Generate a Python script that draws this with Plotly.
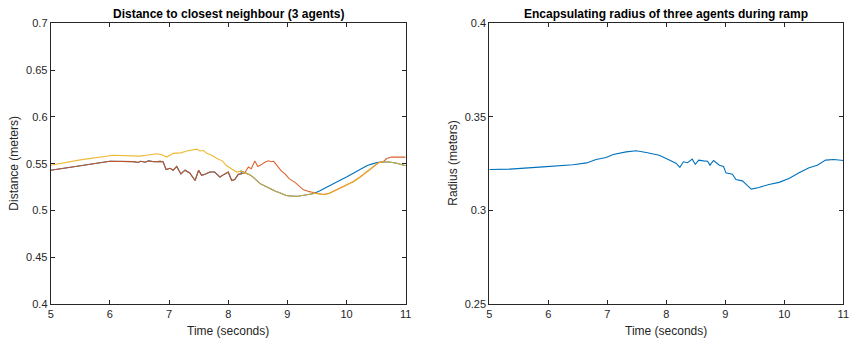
import plotly.graph_objects as go

# ---------------- Left panel data: distance to closest neighbour ----------------
# segment shared by agent 1 (blue) and agent 2 (red), 5 - 8.2 s
low_t = [5.00, 5.50, 6.00, 6.40, 6.48, 6.52, 6.60, 6.65, 6.75, 6.85, 6.90, 6.95, 7.02, 7.07,
         7.13, 7.20, 7.27, 7.35, 7.44, 7.50, 7.55, 7.62, 7.69, 7.77, 7.86, 7.93, 8.00, 8.06,
         8.11, 8.17, 8.22]
low_v = [0.5429, 0.5478, 0.5525, 0.5522, 0.5512, 0.5525, 0.5515, 0.5530, 0.5520, 0.5524,
         0.5520, 0.5436, 0.5450, 0.5430, 0.5470, 0.5390, 0.5430, 0.5400, 0.5320, 0.5430,
         0.5375, 0.5390, 0.5410, 0.5410, 0.5357, 0.5385, 0.5410, 0.5320, 0.5330, 0.5386,
         0.5390]
# agent 3 (yellow), 5 - 8.2 s
upper_t = [5.00, 5.50, 6.06, 6.50, 6.62, 6.70, 6.79, 6.88, 6.96, 7.07, 7.20, 7.30, 7.40,
           7.47, 7.52, 7.58, 7.64, 7.72, 7.81, 7.90, 7.97, 8.06, 8.14, 8.22]
upper_v = [0.5482, 0.5540, 0.5590, 0.5580, 0.5590, 0.5595, 0.5605, 0.5595, 0.5570, 0.5610,
           0.5615, 0.5636, 0.5645, 0.5655, 0.5635, 0.5640, 0.5610, 0.5590, 0.5555, 0.5530,
           0.5480, 0.5445, 0.5410, 0.5420]
# agent 2 bump, 8.2 - 9.45 s
bump_t = [8.22, 8.28, 8.34, 8.39, 8.45, 8.50, 8.56, 8.62, 8.68, 8.73, 8.77, 8.85, 8.90,
          8.96, 9.03, 9.13, 9.20, 9.27, 9.35, 9.45]
bump_v = [0.5390, 0.5400, 0.5464, 0.5445, 0.5529, 0.5470, 0.5490, 0.5515, 0.5530, 0.5520,
          0.5525, 0.5464, 0.5420, 0.5390, 0.5340, 0.5300, 0.5260, 0.5220, 0.5205, 0.5190]
# shared by agents 1 and 3, 8.2 - 9.45 s
olive_t = [8.22, 8.30, 8.37, 8.43, 8.48, 8.54, 8.62, 8.71, 8.80, 8.88, 8.98, 9.05, 9.13,
           9.20, 9.27, 9.35, 9.45]
olive_v = [0.5420, 0.5400, 0.5380, 0.5350, 0.5320, 0.5286, 0.5260, 0.5230, 0.5205, 0.5186,
           0.5160, 0.5155, 0.5150, 0.5155, 0.5160, 0.5172, 0.5180]
# agent 1 rise, 9.45 - 10.62 s
rise_t = [9.45, 9.55, 9.65, 9.72, 9.85, 10.00, 10.12, 10.23, 10.35, 10.45, 10.54, 10.62]
rise_v = [0.5180, 0.5210, 0.5245, 0.5268, 0.5310, 0.5357, 0.5400, 0.5446, 0.5480, 0.5500,
          0.5515, 0.5518]
# shared by agents 2 and 3, 9.45 - 10.62 s
orange_t = [9.45, 9.52, 9.61, 9.70, 9.78, 9.88, 10.00, 10.12, 10.23, 10.32, 10.40, 10.48,
            10.54, 10.62]
orange_v = [0.5185, 0.5178, 0.5170, 0.5180, 0.5205, 0.5235, 0.5268, 0.5310, 0.5357, 0.5400,
            0.5446, 0.5485, 0.5510, 0.5520]
# agent 2 end, 10.62 - 11 s
redend_t = [10.62, 10.68, 10.76, 10.90, 11.00]
redend_v = [0.5520, 0.5554, 0.5570, 0.5572, 0.5570]
# shared by agents 1 and 3, 10.62 - 11 s
olend_t = [10.62, 10.72, 10.85, 10.95, 11.00]
olend_v = [0.5518, 0.5518, 0.5505, 0.5485, 0.5478]

agent1_t = low_t + olive_t + rise_t + olend_t
agent1_v = low_v + olive_v + rise_v + olend_v
agent2_t = low_t + bump_t + orange_t + redend_t
agent2_v = low_v + bump_v + orange_v + redend_v
agent3_t = upper_t + olive_t + orange_t + olend_t
agent3_v = upper_v + olive_v + orange_v + olend_v

# ---------------- Right panel data: encapsulating radius ----------------
radius_t = [5.00, 5.35, 5.91, 6.42, 6.65, 6.81, 6.98, 7.10, 7.32, 7.49, 7.66, 7.88, 8.05,
            8.17, 8.23, 8.29, 8.36, 8.44, 8.49, 8.55, 8.63, 8.70, 8.74, 8.80, 8.90, 8.97,
            9.01, 9.12, 9.18, 9.29, 9.35, 9.44, 9.57, 9.74, 9.91, 10.08, 10.25, 10.42,
            10.56, 10.70, 10.84, 11.00]
radius_v = [0.3219, 0.3221, 0.3233, 0.3244, 0.3254, 0.3272, 0.3283, 0.3299, 0.3313, 0.3319,
            0.3310, 0.3295, 0.3269, 0.3251, 0.3230, 0.3260, 0.3255, 0.3274, 0.3246, 0.3269,
            0.3265, 0.3263, 0.3242, 0.3267, 0.3242, 0.3235, 0.3201, 0.3194, 0.3165, 0.3158,
            0.3141, 0.3114, 0.3123, 0.3139, 0.3150, 0.3171, 0.3201, 0.3228, 0.3242, 0.3269,
            0.3272, 0.3267]

x_ticks = [5, 6, 7, 8, 9, 10, 11]
left_yticks = [0.4, 0.45, 0.5, 0.55, 0.6, 0.65, 0.7]
left_ylabels = ["0.4", "0.45", "0.5", "0.55", "0.6", "0.65", "0.7"]
right_yticks = [0.25, 0.3, 0.35, 0.4]
right_ylabels = ["0.25", "0.3", "0.35", "0.4"]

BLUE = "#0072BD"
RED = "#D95319"
YELLOW = "#EDB120"
AX = "#262626"
FONT = "Liberation Sans, Arial, sans-serif"

fig = go.Figure()
fig.add_trace(go.Scatter(x=agent1_t, y=agent1_v, mode="lines", line=dict(color=BLUE, width=1.1),
                         xaxis="x", yaxis="y", showlegend=False))
fig.add_trace(go.Scatter(x=agent2_t, y=agent2_v, mode="lines", line=dict(color=RED, width=1.1),
                         opacity=0.9, xaxis="x", yaxis="y", showlegend=False))
fig.add_trace(go.Scatter(x=agent3_t, y=agent3_v, mode="lines", line=dict(color=YELLOW, width=1.1),
                         opacity=0.9, xaxis="x", yaxis="y", showlegend=False))
fig.add_trace(go.Scatter(x=radius_t, y=radius_v, mode="lines", line=dict(color=BLUE, width=1.1),
                         xaxis="x2", yaxis="y2", showlegend=False))

W, H = 850, 338
L1, R1 = 50.7, 405.7
L2, R2 = 489.3, 843.3
TOP, BOT = 23.3, 304.0

axis_common = dict(showline=True, linecolor=AX, linewidth=1, mirror="allticks",
                   ticks="inside", ticklen=4, tickwidth=1, tickcolor=AX,
                   showgrid=False, zeroline=False, automargin=False,
                   ticklabeloverflow="allow",
                   tickfont=dict(family=FONT, size=11, color=AX))

fig.update_layout(
    width=W, height=H,
    margin=dict(l=0, r=0, t=0, b=0),
    paper_bgcolor="white", plot_bgcolor="white",
    xaxis=dict(domain=[L1 / W, R1 / W], range=[5, 11], tickvals=x_ticks, anchor="y", **axis_common),
    yaxis=dict(domain=[1 - BOT / H, 1 - TOP / H], range=[0.4, 0.7], tickvals=left_yticks,
               ticktext=left_ylabels, anchor="x", **axis_common),
    xaxis2=dict(domain=[L2 / W, R2 / W], range=[5, 11], tickvals=x_ticks, anchor="y2", **axis_common),
    yaxis2=dict(domain=[1 - BOT / H, 1 - TOP / H], range=[0.25, 0.4], tickvals=right_yticks,
                ticktext=right_ylabels, anchor="x2", **axis_common),
)

def ann(text, x, y, size, bold=False, angle=0):
    fig.add_annotation(text=("<b>%s</b>" % text) if bold else text,
                       x=x / W, y=1 - y / H, xref="paper", yref="paper",
                       showarrow=False, textangle=angle, xanchor="center", yanchor="middle",
                       font=dict(family=FONT, size=size, color="black" if bold else AX))

ann("Distance to closest neighbour (3 agents)", (L1 + R1) / 2, 14, 12, bold=True)
ann("Encapsulating radius of three agents during ramp", (L2 + R2) / 2, 14, 12, bold=True)
ann("Time (seconds)", (L1 + R1) / 2, 331, 12)
ann("Time (seconds)", (L2 + R2) / 2, 331, 12)
ann("Distance (meters)", 14, (TOP + BOT) / 2, 12, angle=-90)
ann("Radius (meters)", 453, (TOP + BOT) / 2, 12, angle=-90)

fig.write_html("out.html")
